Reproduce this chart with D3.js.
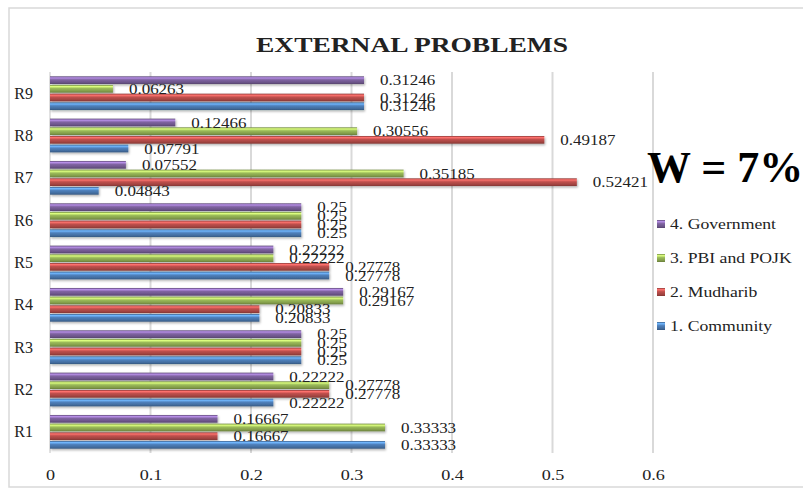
<!DOCTYPE html>
<html>
<head>
<meta charset="utf-8">
<script src="https://cdn.jsdelivr.net/npm/d3@7"></script>
<style>
  body { margin: 0; background: #fff; }
  svg text { font-family: 'Liberation Serif', 'Times New Roman', serif; fill: #222; }
</style>
</head>
<body>
<div id="chart"></div>
<script>
// data
var categories = ['R1', 'R2', 'R3', 'R4', 'R5', 'R6', 'R7', 'R8', 'R9']
var seriesNames = ['1. Community', '2. Mudharib', '3. PBI and POJK', '4. Government']
var community = [0.33333, 0.22222, 0.25, 0.20833, 0.27778, 0.25, 0.04843, 0.07791, 0.31246]
var mudharib = [0.16667, 0.27778, 0.25, 0.20833, 0.27778, 0.25, 0.52421, 0.49187, 0.31246]
var pbiPojk = [0.33333, 0.27778, 0.25, 0.29167, 0.22222, 0.25, 0.35185, 0.30556, 0.06263]
var government = [0.16667, 0.22222, 0.25, 0.29167, 0.22222, 0.25, 0.07552, 0.12466, 0.31246]
var xTicks = [0, 0.1, 0.2, 0.3, 0.4, 0.5, 0.6]
var colors = ['#4f81bd', '#c0504d', '#9bbb59', '#8064a2']

var seriesValues = [community, mudharib, pbiPojk, government]

var width = 803
var height = 489

var svg = d3.select('#chart')
  .append('svg')
  .attr('width', width)
  .attr('height', height)

// chart frame
svg.append('rect')
  .attr('x', 9).attr('y', 8)
  .attr('width', 810).attr('height', 479)
  .attr('fill', '#fff')
  .attr('stroke', '#d9d9d9')
  .attr('stroke-width', 1.5)

var defs = svg.append('defs')
colors.forEach(function (c, i) {
  var base = d3.color(c)
  var g = defs.append('linearGradient')
    .attr('id', 'grad' + i)
    .attr('x1', 0).attr('y1', 0).attr('x2', 0).attr('y2', 1)
  g.append('stop').attr('offset', '0%').attr('stop-color', base.darker(0.9))
  g.append('stop').attr('offset', '20%').attr('stop-color', base.brighter(1))
  g.append('stop').attr('offset', '45%').attr('stop-color', base)
  g.append('stop').attr('offset', '80%').attr('stop-color', base.darker(0.5))
  g.append('stop').attr('offset', '100%').attr('stop-color', base.darker(1.1))
})
var shadow = defs.append('filter').attr('id', 'shadow')
  .attr('x', '-5%').attr('y', '-50%').attr('width', '110%').attr('height', '250%')
shadow.append('feDropShadow')
  .attr('dx', 1).attr('dy', 1.5).attr('stdDeviation', 1)
  .attr('flood-color', '#000').attr('flood-opacity', 0.3)

var x = d3.scaleLinear()
  .domain([0, 0.6])
  .range([50, 653])

var y = d3.scaleBand()
  .domain(categories.slice().reverse())
  .range([72, 453])
  .paddingInner(0.18)
  .paddingOuter(0.09)

// bars inside a group: Government on top, Community at the bottom
var yInner = d3.scaleBand()
  .domain([3, 2, 1, 0])
  .range([0, y.bandwidth()])

// gridlines
svg.append('g')
  .selectAll('line')
  .data(xTicks.slice(1))
  .enter()
  .append('line')
  .attr('x1', function (d) { return x(d) })
  .attr('x2', function (d) { return x(d) })
  .attr('y1', 72)
  .attr('y2', 453)
  .attr('stroke', '#d9d9d9')
  .attr('stroke-width', 2)

// category axis line
svg.append('line')
  .attr('x1', x(0)).attr('x2', x(0))
  .attr('y1', 72).attr('y2', 453)
  .attr('stroke', '#d9d9d9')
  .attr('stroke-width', 1.5)

// x axis labels
var xAxis = svg.append('g')
  .attr('transform', 'translate(0,480)')
  .call(d3.axisBottom(x).tickValues(xTicks).tickSize(0).tickPadding(0).tickFormat(function (d) { return d === 0 ? '0' : d3.format('.1f')(d) }))
xAxis.select('.domain').remove()
xAxis.selectAll('text')
  .attr('y', 0)
  .attr('dy', 0)
  .style('font-size', '14.5px')
  .attr('transform', 'scale(1.25,1)')

// category labels
var yAxis = svg.append('g')
  .attr('transform', 'translate(33,0)')
  .call(d3.axisLeft(y).tickSize(0).tickPadding(0))
yAxis.select('.domain').remove()
yAxis.selectAll('text')
  .style('font-size', '16px')
  .attr('dy', '0.35em')

var rows = []
seriesValues.forEach(function (vals, s) {
  vals.forEach(function (v, i) {
    rows.push({ s: s, cat: categories[i], v: v })
  })
})

// bars
svg.append('g')
  .attr('filter', 'url(#shadow)')
  .selectAll('rect')
  .data(rows)
  .enter()
  .append('rect')
  .attr('x', x(0))
  .attr('y', function (d) { return y(d.cat) + yInner(d.s) + 0.5 })
  .attr('width', function (d) { return x(d.v) - x(0) })
  .attr('height', yInner.bandwidth() - 1)
  .attr('fill', function (d) { return 'url(#grad' + d.s + ')' })

// value labels
svg.append('g')
  .selectAll('text')
  .data(rows)
  .enter()
  .append('text')
  .attr('transform', function (d) {
    return 'translate(' + (x(d.v) + 16) + ',' + (y(d.cat) + yInner(d.s) + yInner.bandwidth() / 2) + ') scale(1.17,1)'
  })
  .attr('dy', '0.35em')
  .style('font-size', '14.5px')
  .text(function (d) { return d3.format('.5~f')(d.v) })

// title
svg.append('text')
  .attr('transform', 'translate(412,52) scale(1.34,1)')
  .attr('text-anchor', 'middle')
  .style('font-size', '20.5px')
  .style('font-weight', 'bold')
  .text('EXTERNAL PROBLEMS')

// big annotation
svg.append('text')
  .attr('x', 647)
  .attr('y', 182)
  .style('font-size', '44px')
  .style('font-weight', 'bold')
  .style('fill', '#000')
  .text('W = 7%')

// legend
var legend = svg.append('g')
  .selectAll('g')
  .data([3, 2, 1, 0])
  .enter()
  .append('g')
  .attr('transform', function (d, i) { return 'translate(657,' + (224 + i * 34) + ')' })
legend.append('rect')
  .attr('x', 0).attr('y', -4)
  .attr('width', 8).attr('height', 8)
  .attr('fill', function (d) { return 'url(#grad' + d + ')' })
legend.append('text')
  .attr('transform', 'translate(13,0) scale(1.22,1)')
  .attr('dy', '0.35em')
  .style('font-size', '14.5px')
  .text(function (d) { return seriesNames[d] })
</script>
</body>
</html>
